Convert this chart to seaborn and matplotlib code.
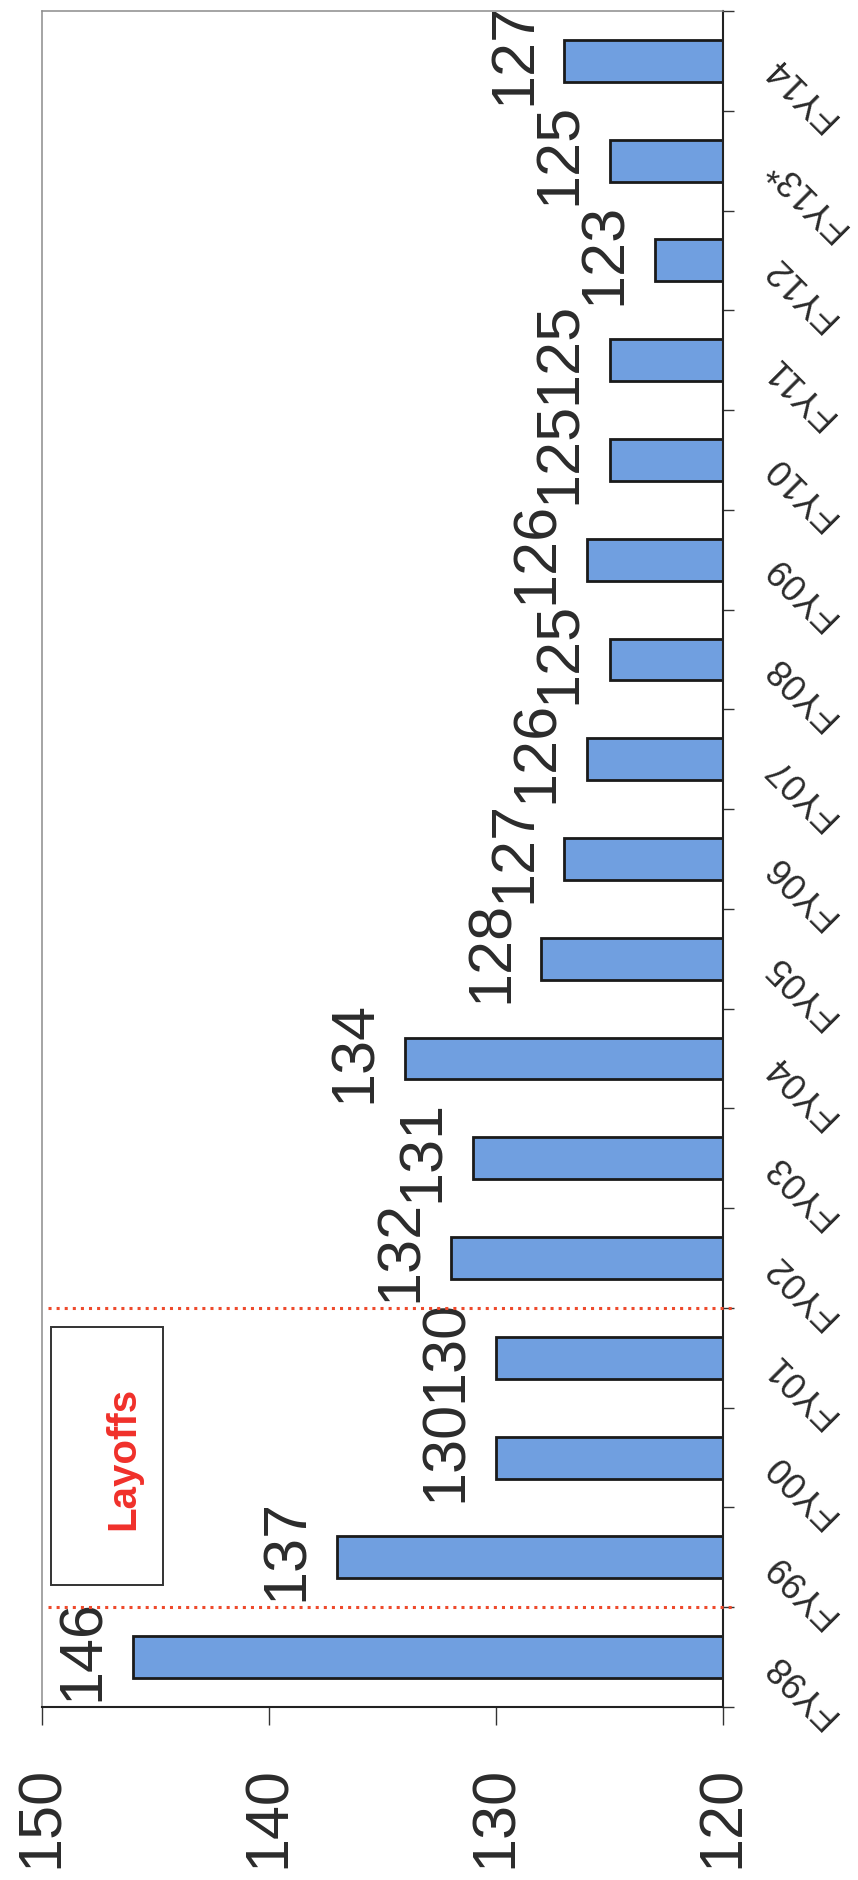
import numpy as np
import pandas as pd
import matplotlib
matplotlib.use("Agg")
import matplotlib.pyplot as plt
from matplotlib.patches import Rectangle
import seaborn as sns

# Fiscal years and headcount values
years = ["FY98", "FY99", "FY00", "FY01", "FY02", "FY03", "FY04", "FY05", "FY06",
         "FY07", "FY08", "FY09", "FY10", "FY11", "FY12", "FY13*", "FY14"]
values = [146, 137, 130, 130, 132, 131, 134, 128, 127,
          126, 125, 126, 125, 125, 123, 125, 127]
value_ticks = [150, 140, 130, 120]
layoff_first, layoff_last = "FY99", "FY01"
layoff_label = "Layoffs"

sns.set_style("white")
plt.rcParams["font.family"] = ["Liberation Sans", "DejaVu Sans"]

TEXT = "#2b2b2b"
BAR = "#709fe0"
RED = "#ee4a2c"
RED_TEXT = "#f0302a"

df = pd.DataFrame({"year": years, "value": values})
order = years[::-1]          # latest year at the top, FY98 at the bottom
pos = {y: i for i, y in enumerate(order)}

fig = plt.figure(figsize=(8.58, 18.81), dpi=100)
ax = fig.add_axes([42 / 858, 1 - 1708 / 1881, (723 - 42) / 858, (1708 - 12) / 1881])

sns.barplot(data=df, x="value", y="year", order=order, orient="h",
            color=BAR, saturation=1, width=0.42,
            edgecolor="#1a1a1a", linewidth=2.0, ax=ax)

ax.set_xlim(value_ticks[0], value_ticks[-1])
ax.set_ylim(len(order) - 0.5, -0.5)
ax.set_xlabel("")
ax.set_ylabel("")

# value axis along the bottom, rotated labels
ax.set_xticks(value_ticks)
ax.set_xticklabels([str(t) for t in value_ticks])
ax.tick_params(axis="x", which="major", direction="out", bottom=True, length=13,
               width=1, color="#333333", pad=29, labelsize=44,
               labelrotation=90, labelcolor=TEXT)

# category axis on the right, ticks between categories
ax.yaxis.tick_right()
ax.set_yticks(np.arange(len(order)))
ax.set_yticklabels(order)
ax.set_yticks(np.arange(-0.5, len(order), 1.0), minor=True)
ax.tick_params(axis="y", which="major", length=0, pad=34, labelsize=26,
               labelcolor=TEXT, right=True, left=False)
ax.tick_params(axis="y", which="minor", direction="out", length=8, width=1,
               color="#333333", right=True, left=False)
for lab in ax.get_yticklabels():
    lab.set_rotation(135)
    lab.set_rotation_mode("anchor")
    lab.set_ha("right")
    lab.set_va("center")

# frame: dark axes lines, light outer edges
for side in ("right", "bottom"):
    ax.spines[side].set_visible(True)
    ax.spines[side].set_color("#222222")
    ax.spines[side].set_linewidth(1.5)
for side in ("left", "top"):
    ax.spines[side].set_visible(True)
    ax.spines[side].set_color("#8c8c8c")
    ax.spines[side].set_linewidth(1.1)

# value labels beside each bar end
for y, v in zip(years, values):
    ax.annotate(str(v), xy=(v, pos[y]), xytext=(-21, 8), textcoords="offset pixels",
                ha="right", va="center", rotation=90, fontsize=44, color=TEXT,
                annotation_clip=False)

# layoff period markers
upper = pos[layoff_last] - 0.5
lower = pos[layoff_first] + 0.5
for b in (upper, lower):
    ax.plot([149.75, 119.5], [b, b], linestyle=":", color=RED, lw=2.2,
            clip_on=False, zorder=4)

box = Rectangle((149.6, upper + 0.19), -4.93, (lower - upper) - 0.41,
                fill=False, edgecolor="#333333", lw=1.4, zorder=4)
ax.add_patch(box)
ax.text(146.4, (upper + lower) / 2, layoff_label, rotation=90, ha="center",
        va="center", fontsize=29, fontweight="bold", color=RED_TEXT, zorder=5)

fig.savefig("out.png", dpi=100, facecolor="white")
